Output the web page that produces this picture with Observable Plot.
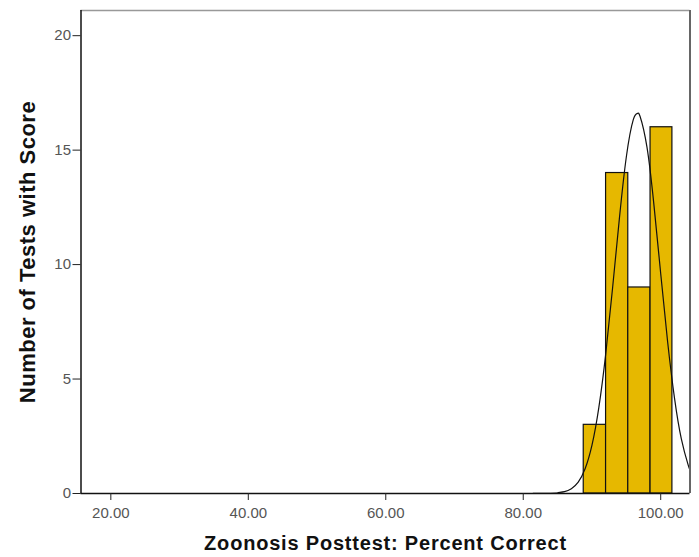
<!DOCTYPE html>
<html>
<head>
<meta charset="utf-8">
<script src="https://cdn.jsdelivr.net/npm/d3@7"></script>
<script src="https://cdn.jsdelivr.net/npm/@observablehq/plot@0.6"></script>
<style>
  html, body { margin: 0; padding: 0; background: #fff; }
  #chart svg { display: block; }
  #chart [aria-label="x-axis label"] text { font-size: 20px; font-weight: bold; fill: #111; letter-spacing: 0.8px; }
  #chart [aria-label="y-axis label"] text { font-size: 22px; font-weight: bold; fill: #111; letter-spacing: 0.5px; }
</style>
</head>
<body>
<div id="chart"></div>
<script>
// Histogram bins (bin edges) and counts
const binEdges = [88.8, 92.05, 95.28, 98.52, 101.7];
const counts = [3, 14, 9, 16];

// Normal curve points
const curveX = [15.66, 80, 82, 84, 85, 86, 87, 88, 89, 90, 91, 92, 93, 94, 95, 96, 96.6, 97, 98, 99, 100, 101, 102, 103, 104, 104.26];
const curveY = [0, 0, 0.001, 0.009, 0.028, 0.081, 0.21, 0.50, 1.08, 2.11, 3.76, 6.10, 8.99, 12.05, 14.71, 16.32, 16.6, 16.47, 15.13, 12.64, 9.60, 6.64, 4.18, 2.39, 1.24, 1.03];

// Axis ticks and domains
const xTicks = [20, 40, 60, 80, 100];
const yTicks = [0, 5, 10, 15, 20];
const xDomain = [15.66, 104.26];
const yDomain = [0, 21.1];

const bars = counts.map((c, i) => ({x1: binEdges[i], x2: binEdges[i + 1], y: c}));
const curve = curveX.map((x, i) => ({x, y: curveY[i]}));

const chart = Plot.plot({
  width: 699,
  height: 557,
  marginLeft: 80.5,
  marginRight: 9.5,
  marginTop: 10,
  marginBottom: 64,
  style: {fontFamily: "'Liberation Sans', Arial, sans-serif", fontSize: "15px", color: "#555", background: "#fff"},
  x: {domain: xDomain},
  y: {domain: yDomain},
  marks: [
    Plot.rectY(bars, {x1: "x1", x2: "x2", y: "y", fill: "#E6B800", stroke: "#111", strokeWidth: 1.2}),
    Plot.line(curve, {x: "x", y: "y", stroke: "#111", strokeWidth: 1.2, curve: "natural"}),
    Plot.ruleY([yDomain[1]], {stroke: "#999", strokeWidth: 1.5}),
    Plot.ruleX([xDomain[1]], {stroke: "#666", strokeWidth: 2}),
    Plot.ruleX([xDomain[0]], {stroke: "#111", strokeWidth: 1.5}),
    Plot.ruleY([0], {stroke: "#111", strokeWidth: 1.5}),
    Plot.axisX({ticks: xTicks, tickFormat: d3.format(".2f"), tickSize: 7, tickPadding: 7, stroke: "#222", fill: "#555",
      label: "Zoonosis Posttest: Percent Correct", labelAnchor: "center", labelArrow: "none", labelOffset: 56}),
    Plot.axisY({ticks: yTicks, tickSize: 8, tickPadding: 2, stroke: "#222", fill: "#555",
      label: "Number of Tests with Score", labelAnchor: "center", labelArrow: "none", labelOffset: 62})
  ]
});
document.getElementById("chart").appendChild(chart);
</script>
</body>
</html>
